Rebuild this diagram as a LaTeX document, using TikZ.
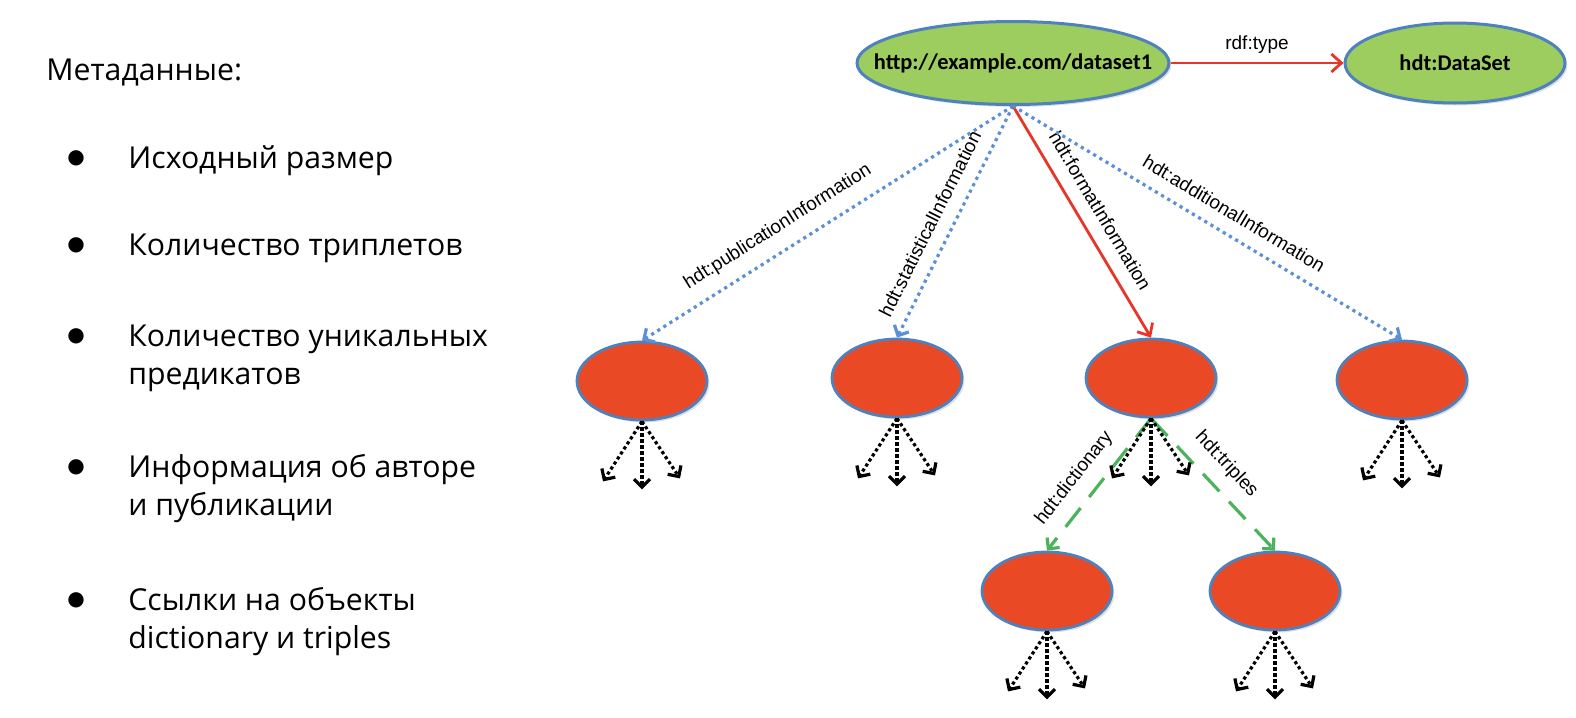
\documentclass[tikz,border=0pt]{standalone}
\usepackage{fontspec}
\setmainfont{Liberation Sans}
\newfontfamily\listfont{Open Sans}
\newfontfamily\nodefont{Carlito}
\newfontfamily\bulletfont{DejaVu Sans}
\usetikzlibrary{shapes.geometric,arrows.meta,shadows}

\definecolor{leafgreen}{HTML}{9DCC5F}
\definecolor{rimblue}{HTML}{4F81BD}
\definecolor{blobred}{HTML}{E94A25}
\definecolor{linkred}{HTML}{E8352A}
\definecolor{linkblue}{HTML}{5B8FD6}
\definecolor{linkgreen}{HTML}{4DB35A}

\tikzset{
  resource/.style={ellipse, draw=rimblue, line width=1.5pt, fill=leafgreen, inner sep=0pt,
    font=\nodefont\bfseries\fontsize{11.2}{13}\selectfont,
    drop shadow={opacity=0.25, shadow xshift=1.2pt, shadow yshift=-1.2pt}},
  blank/.style={ellipse, draw=rimblue, line width=1.4pt, fill=blobred, inner sep=0pt,
    minimum width=65pt, minimum height=39pt,
    drop shadow={opacity=0.25, shadow xshift=1.2pt, shadow yshift=-1.2pt}},
  edgelabel/.style={text=black, font=\fontsize{9.5}{11}\selectfont, sloped, above, inner sep=6.5pt},
  solidlink/.style={linkred, line width=1.4pt, -{Straight Barb[length=5pt,width=9pt]}},
  dottedlink/.style={linkblue, line width=1.6pt, dash pattern=on 1.6pt off 2pt,
    -{Straight Barb[length=4pt,width=8pt]}},
  dashedlink/.style={linkgreen, line width=1.6pt, dash pattern=on 12pt off 7pt,
    -{Straight Barb[length=4pt,width=8pt]}},
  fanout/.style={black, line width=1.6pt, dash pattern=on 1.6pt off 1.4pt,
    -{Straight Barb[length=4pt,width=8pt]}},
  textline/.style={anchor=base west, inner sep=0pt, align=left,
    font=\listfont\fontsize{15.1}{19}\selectfont},
  dot/.style={anchor=center, inner sep=0pt, font=\bulletfont\fontsize{10}{12}\selectfont}
}

\begin{document}
\begin{tikzpicture}[x=0.5pt, y=-0.5pt]
    \useasboundingbox (0,0) rectangle (1576,718);

    % list of metadata (multi-line nodes sit on their last line)
    \node[textline] (meta) at (46,80) {Метаданные:};
    \node[dot] (b1) at (76,158) {●};
    \node[dot] (b2) at (76,245) {●};
    \node[dot] (b3) at (76,336) {●};
    \node[dot] (b4) at (76,467) {●};
    \node[dot] (b5) at (76,600) {●};
    \node[textline] (i1) at (128,168) {Исходный размер};
    \node[textline] (i2) at (128,255) {Количество триплетов};
    \node[textline] (i3) at (128,384) {Количество уникальных\\предикатов};
    \node[textline] (i4) at (128,515) {Информация об авторе\\и публикации};
    \node[textline] (i5) at (128,648) {Ссылки на объекты\\dictionary и triples};

    % graph nodes
    \node[resource, inner xsep=-16pt, minimum width=156pt, minimum height=41.5pt] (ds) at (1013,63) {http://example.com/dataset1};
    \node[resource, minimum width=110pt, minimum height=40pt] (type) at (1455,63) {hdt:DataSet};
    \node[blank] (pub) at (642,381) {};
    \node[blank] (stat) at (897,378) {};
    \node[blank] (fmt) at (1151,378) {};
    \node[blank] (add) at (1402,380) {};
    \node[blank] (dict) at (1047,591) {};
    \node[blank] (trip) at (1275,591) {};

    % links
    \draw[solidlink] (ds) -- node[edgelabel, inner sep=4pt] {rdf:type} (type);
    \draw[dottedlink] (ds.south) -- node[edgelabel, pos=0.6] {hdt:publicationInformation} (pub.north);
    \draw[dottedlink] (ds.south) -- node[edgelabel, pos=0.55] {hdt:statisticalInformation} (stat.north);
    \draw[solidlink] (ds.south) -- node[edgelabel, pos=0.5] {hdt:formatInformation} (fmt.north);
    \draw[dottedlink] (ds.south) -- node[edgelabel, pos=0.54] {hdt:additionalInformation} (add.north);
    \draw[dashedlink] (fmt.south) -- node[edgelabel, pos=0.56] {hdt:dictionary} (dict.north);
    \draw[dashedlink] (fmt.south) -- node[edgelabel, pos=0.47] {hdt:triples} (trip.north);

    % fan-out below every blank node
    \foreach \n in {pub,stat,fmt,add,dict,trip} {
        \coordinate (\n-l) at ([shift={(-19.5pt,-30pt)}]\n.south);
        \coordinate (\n-m) at ([shift={(0pt,-34pt)}]\n.south);
        \coordinate (\n-r) at ([shift={(19pt,-28.5pt)}]\n.south);
        \draw[fanout] (\n.south) -- (\n-l);
        \draw[fanout] (\n.south) -- (\n-m);
        \draw[fanout] (\n.south) -- (\n-r);
    }
\end{tikzpicture}
\end{document}
